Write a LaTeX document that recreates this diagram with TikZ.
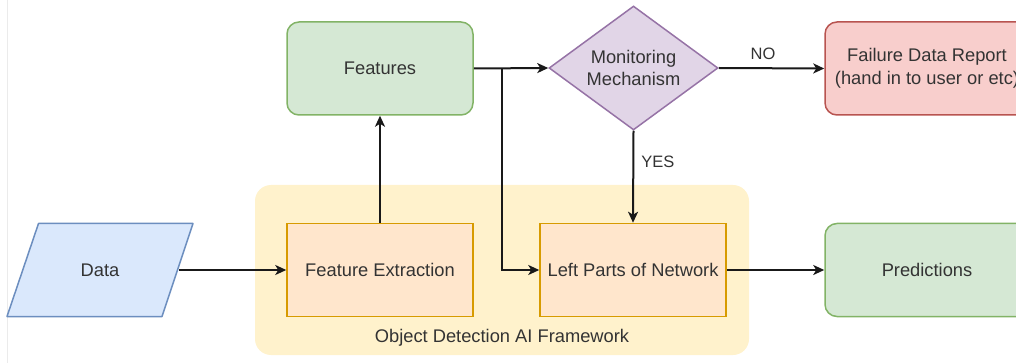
\documentclass[tikz,border=0pt]{standalone}
\usepackage{fontspec}
\setmainfont{Liberation Sans}
\usetikzlibrary{arrows.meta,shapes.geometric}

\definecolor{txt}{HTML}{333333}
\definecolor{greenfill}{HTML}{D5E8D4}
\definecolor{greenline}{HTML}{82B366}
\definecolor{purplefill}{HTML}{E1D5E7}
\definecolor{purpleline}{HTML}{9673A6}
\definecolor{redfill}{HTML}{F8CECC}
\definecolor{redline}{HTML}{B85450}
\definecolor{bluefill}{HTML}{DAE8FC}
\definecolor{blueline}{HTML}{6C8EBF}
\definecolor{orangefill}{HTML}{FFE6CC}
\definecolor{orangeline}{HTML}{D79B00}
\definecolor{yellowfill}{HTML}{FFF2CC}
\definecolor{edgegray}{HTML}{EBEBEB}

\begin{document}
\begin{tikzpicture}[x=1pt,y=-1pt,
  lbl/.style={font=\fontsize{18.3}{22.5}\selectfont, text=txt, align=center, inner sep=0pt},
  smalllbl/.style={font=\fontsize{16.5}{20}\selectfont, text=txt, inner sep=0pt},
  box/.style={lbl, rectangle, minimum width=186pt, minimum height=93pt, line width=1.5pt},
  rbox/.style={box, rounded corners=12pt},
  greenbox/.style={rbox, fill=greenfill, draw=greenline},
  redbox/.style={rbox, fill=redfill, draw=redline},
  orangebox/.style={box, fill=orangefill, draw=orangeline},
  decision/.style={lbl, diamond, aspect=1.36, minimum width=169pt, minimum height=124pt,
    fill=purplefill, draw=purpleline, line width=1.5pt},
  conn/.style={line width=2pt, draw=black!90,
    -{Stealth[length=11pt,width=10pt,inset=3pt]}}
]
\clip (0,0) rectangle (1016,363);
\useasboundingbox (0,0) rectangle (1016,363);

% thin page edge on the left
\draw[edgegray, line width=1pt] (7,0) -- (7,363);

% framework container
\node[fill=yellowfill, rounded corners=16pt, minimum width=494pt, minimum height=170pt,
  inner sep=0pt] (frame) at (502,270) {};
\node[lbl] (framelabel) at (502,338) {Object Detection AI Framework};

% input parallelogram
\draw[fill=bluefill, draw=blueline, line width=1.5pt, line join=round]
  (7,316.5) -- (38.5,223.5) -- (193,223.5) -- (162,316.5) -- cycle;
\node[lbl, minimum width=158pt, minimum height=93pt] (data) at (100,270) {Data};

% processing blocks
\node[orangebox] (fe) at (380,270) {Feature Extraction};
\node[orangebox] (left) at (633,270) {Left Parts of Network};
\node[greenbox] (feat) at (380,68.5) {Features};
\node[decision] (mon) at (633.5,68) {Monitoring\\Mechanism};
\node[redbox, minimum width=204pt] (fail) at (927,68.5) {Failure Data Report\\(hand in to user or etc)};
\node[greenbox, minimum width=204pt] (pred) at (927,270) {Predictions};

% connectors
\coordinate (split) at (501.5,68.5);
\draw[conn] (data.east) -- (fe.west);
\draw[conn] (fe.north) -- (feat.south);
\draw[conn] (feat.east) -- (mon.west);
\draw[conn] (split) |- (left.west);
\draw[conn] (mon.east) -- (fail.west)
  node[smalllbl, pos=0.42, above=8pt] {NO};
\draw[conn] (mon.south) -- (left.north)
  node[smalllbl, pos=0.34, right=7pt] {YES};
\draw[conn] (left.east) -- (pred.west);
\end{tikzpicture}
\end{document}
